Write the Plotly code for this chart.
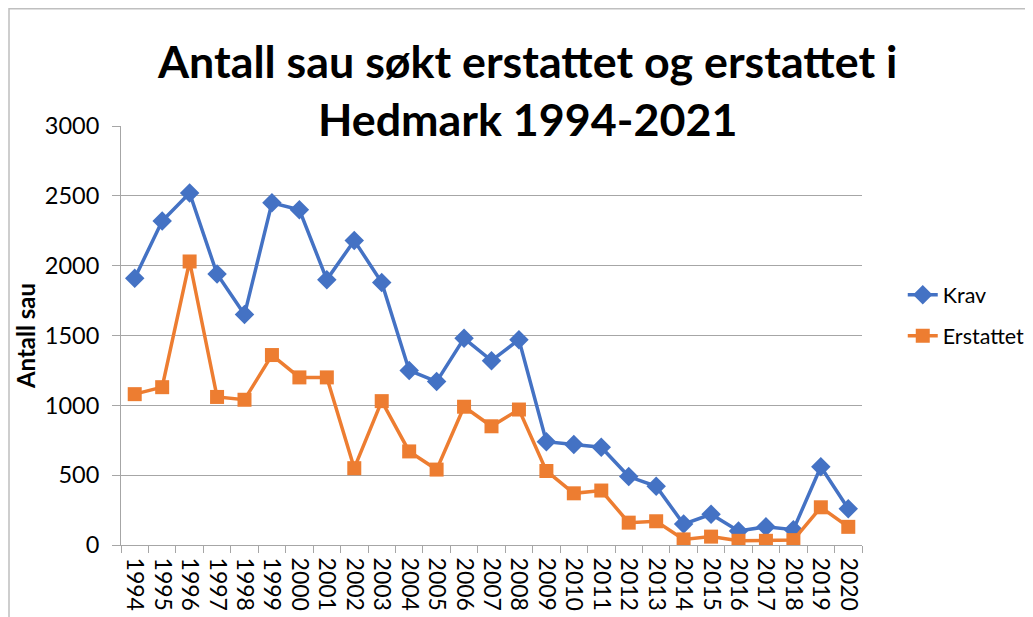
import plotly.graph_objects as go

years = [str(y) for y in range(1994, 2021)]
krav = [1910, 2320, 2520, 1940, 1650, 2450, 2400, 1900, 2180, 1880, 1250, 1170, 1480, 1320, 1470,
        740, 720, 700, 490, 420, 150, 220, 100, 130, 110, 560, 260]
erstattet = [1080, 1130, 2030, 1060, 1040, 1360, 1200, 1200, 550, 1030, 670, 540, 990, 850, 970,
             530, 370, 390, 160, 170, 40, 60, 30, 30, 35, 270, 130]
y_ticks = [0, 500, 1000, 1500, 2000, 2500, 3000]

FONT = "Lato"

fig = go.Figure()
fig.add_trace(go.Scatter(
    x=years, y=krav, name="Krav", mode="lines+markers", legendgroup="a",
    line=dict(color="#4472C4", width=3.5),
    marker=dict(symbol="diamond", size=15, color="#4472C4"),
))
fig.add_trace(go.Scatter(
    x=years, y=erstattet, name="Erstattet", mode="lines+markers", legendgroup="b",
    line=dict(color="#ED7D31", width=3.5),
    marker=dict(symbol="square", size=14, color="#ED7D31"),
))

fig.update_layout(
    width=1033, height=617,
    margin=dict(l=113, r=179, t=118, b=80, autoexpand=False),
    paper_bgcolor="white", plot_bgcolor="white",
    font=dict(family=FONT, color="black", size=21),
    showlegend=True,
    legend=dict(x=1.055, y=0.548, xanchor="left", yanchor="middle",
                font=dict(size=21.5, family=FONT), traceorder="grouped",
                tracegroupgap=10, bgcolor="rgba(0,0,0,0)"),
    xaxis=dict(
        type="category", tickangle=90, showgrid=False, automargin=False,
        tickmode="array", tickvals=years, ticktext=years,
        showline=True, linecolor="#a6a6a6", linewidth=1,
        ticks="outside", tickson="boundaries", ticklen=7, tickcolor="#a6a6a6",
        ticklabelstandoff=7,
        tickfont=dict(size=23, family=FONT), range=[-0.5, 26.5],
    ),
    yaxis=dict(
        range=[0, 3000], tickvals=y_ticks, showgrid=True, gridcolor="#a6a6a6", gridwidth=1,
        showline=True, linecolor="#a6a6a6", linewidth=1, zeroline=False, automargin=False,
        ticks="outside", ticklen=8, tickcolor="#a6a6a6",
        ticklabelstandoff=8,
        tickfont=dict(size=23.5, family=FONT),
        title=dict(text="<b>Antall sau</b>", font=dict(size=24, family=FONT), standoff=2),
    ),
    annotations=[dict(
        text="<b>Antall sau søkt erstattet og erstattet i<br>Hedmark 1994-2021</b>",
        xref="paper", yref="paper", x=(527 - 121) / 741, y=(545 - 90) / 419,
        xanchor="center", yanchor="middle", showarrow=False,
        font=dict(size=44.8, family=FONT, color="black"),
    )],
    shapes=[dict(type="rect", xref="paper", yref="paper",
                 x0=(9 - 121) / 741, x1=1.4, y0=-0.4, y1=(545 - 8.8) / 419,
                 line=dict(color="#bfbfbf", width=1.5), layer="below")],
)

fig.write_html("out.html")
